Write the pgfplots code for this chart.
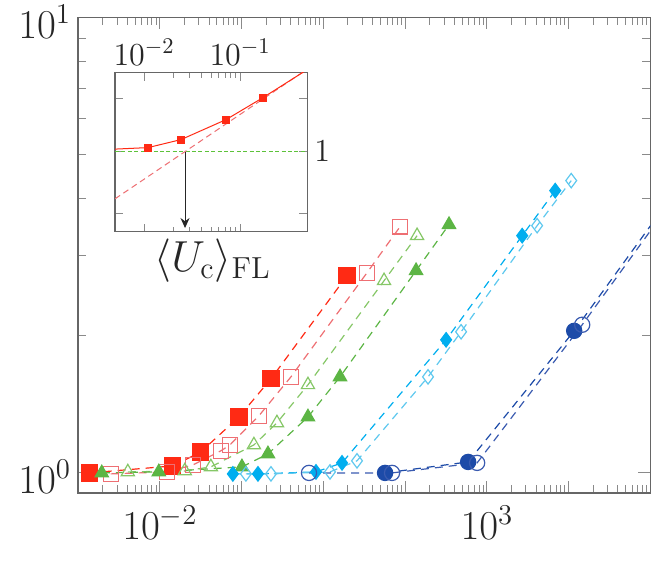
\RequirePackage{fix-cm}
\documentclass[border=0pt]{standalone}
\usepackage{pgfplots}
\pgfplotsset{compat=1.18}
\usetikzlibrary{arrows.meta,calc}

\definecolor{redA}{HTML}{FF2A14}
\definecolor{redB}{HTML}{EE6F73}
\definecolor{greenA}{HTML}{5CB544}
\definecolor{greenB}{HTML}{86C767}
\definecolor{greenC}{HTML}{5DC23A}
\definecolor{cyanA}{HTML}{00AEEF}
\definecolor{cyanB}{HTML}{5EC8EE}
\definecolor{blueA}{HTML}{1D4BA8}
\definecolor{blueB}{HTML}{3A5BB0}
\definecolor{framegray}{HTML}{666666}
\definecolor{tickgray}{HTML}{8A8A8A}

\pgfplotsset{
  series/.style={dash pattern=on 4pt off 3pt, line width=0.6pt,
                 mark options={solid, line width=0.6pt}},
}

\begin{document}
\begin{tikzpicture}
\begin{loglogaxis}[
  name=main,
  scale only axis, width=286pt, height=237.5pt,
  xmin=1e-3, xmax=1e4, ymin=0.904, ymax=10,
  xtick={1e-3,1e-2,1e-1,1,10,100,1000,1e4},
  xticklabels={,$10^{-2}$,,,,$10^{3}$,,},
  ytick={1,10},
  yticklabels={$10^{0}$,$10^{1}$},
  tick align=inside,
  major tick length=6pt, minor tick length=4pt,
  every tick/.style={tickgray, line width=0.5pt},
  axis line style={framegray, line width=0.9pt},
  ticklabel style={font=\fontsize{20.5}{24}\selectfont, text=black!85},
  xticklabel style={yshift=-3pt},
  yticklabel style={yshift=-2pt},
]
% red, filled squares
\addplot[series, redA, mark=square*, mark size=4pt] coordinates {
  (0.00139,1.000) (0.01442,1.036) (0.03177,1.112) (0.0927,1.327)
  (0.2286,1.609) (1.945,2.710)};
% red, open squares
\addplot[series, redB, mark=square, mark size=3.7pt] coordinates {
  (0.00251,0.995) (0.01219,1.005) (0.02535,1.041) (0.0558,1.118)
  (0.0720,1.152) (0.1629,1.335) (0.4009,1.625) (3.42,2.752) (8.66,3.473)};
% green, open triangles
\addplot[series, greenB, mark=triangle, mark size=3.8pt] coordinates {
  (0.00406,1.005) (0.0202,1.010) (0.0421,1.031) (0.1414,1.152)
  (0.2704,1.288) (0.6478,1.561) (5.518,2.642) (13.99,3.318)};
% green, filled triangles
\addplot[series, greenA, mark=triangle*, mark size=3.8pt] coordinates {
  (0.00195,1.000) (0.00972,1.005) (0.1009,1.031) (0.210,1.101)
  (0.6478,1.327) (1.597,1.625) (13.60,2.780) (34.4,3.509)};
% cyan, filled diamonds
\addplot[series, cyanA, mark=diamond*, mark size=3.6pt] coordinates {
  (0.0782,0.995) (0.1585,0.995) (0.812,1.005) (1.690,1.052)
  (31.67,1.960) (269.8,3.318) (684,4.168)};
% cyan, open diamonds
\addplot[series, cyanB, mark=diamond, mark size=3.6pt] coordinates {
  (0.1129,0.995) (0.2286,0.995) (1.205,1.005) (2.578,1.063)
  (19.05,1.625) (48.3,2.041) (411,3.491) (1073,4.383)};
% blue, filled circles
\addplot[series, blueA, mark=*, mark size=3.8pt] coordinates {
  (5.68,1.000) (58.9,1.057) (1167,2.051) (40640,4.935)};
% blue, open circles
\addplot[series, blueB, mark=o, mark size=3.8pt] coordinates {
  (0.667,1.000) (6.915,1.000) (75.9,1.052) (1462,2.115) (40640,4.813)};
\end{loglogaxis}

\begin{loglogaxis}[
  name=inset,
  at={($(main.south west)+(18.5pt,130.5pt)$)}, anchor=south west,
  scale only axis, width=96pt, height=79.5pt,
  xmin=0.005, xmax=0.5, ymin=0.398, ymax=2.483,
  xtick={0.01,0.1},
  xticklabels={$10^{-2}$,$10^{-1}$},
  xticklabel pos=upper,
  ytick={0.49,1,1.84},
  yticklabels={,$1$,},
  yticklabel pos=upper,
  yminorticks=false,
  tick align=inside,
  major tick length=4pt, minor tick length=2.5pt,
  every tick/.style={tickgray, line width=0.4pt},
  axis line style={framegray, line width=0.7pt},
  ticklabel style={font=\fontsize{16}{19}\selectfont, text=black!85},
  axis background/.style={fill=white},
]
\addplot[greenC, dash pattern=on 2pt off 1.2pt, line width=0.6pt] coordinates {
  (0.005,1) (0.5,1)};
\addplot[redB, dash pattern=on 3pt off 2pt, line width=0.5pt] coordinates {
  (0.005,0.581) (0.02673,1) (0.604,2.745)};
\addplot[redA, line width=0.5pt] coordinates {
  (0.005,1.029) (0.01101,1.047) (0.02428,1.148) (0.0715,1.445)
  (0.1736,1.862) (0.604,2.72)};
\addplot[redA, only marks, mark=square*, mark size=1.8pt] coordinates {
  (0.01101,1.047) (0.02428,1.148) (0.0715,1.445) (0.1736,1.862)};
\draw[-{Stealth[length=5pt,width=4.5pt]}, line width=0.5pt, black!85]
  (axis cs:0.02673,1) -- (axis cs:0.02673,0.415);
\end{loglogaxis}

\node[anchor=north, inner sep=0pt, font=\fontsize{21.7}{26}\selectfont, text=black!85]
  at ($(inset.south)+(0.75pt,-3.5pt)$) {$\langle U_{\mathrm{c}}\rangle_{\mathrm{FL}}$};

\pgfresetboundingbox
\path ([shift={(-39pt,-35pt)}]main.south west) rectangle ([shift={(5.25pt,8.75pt)}]main.north east);
\end{tikzpicture}
\end{document}
